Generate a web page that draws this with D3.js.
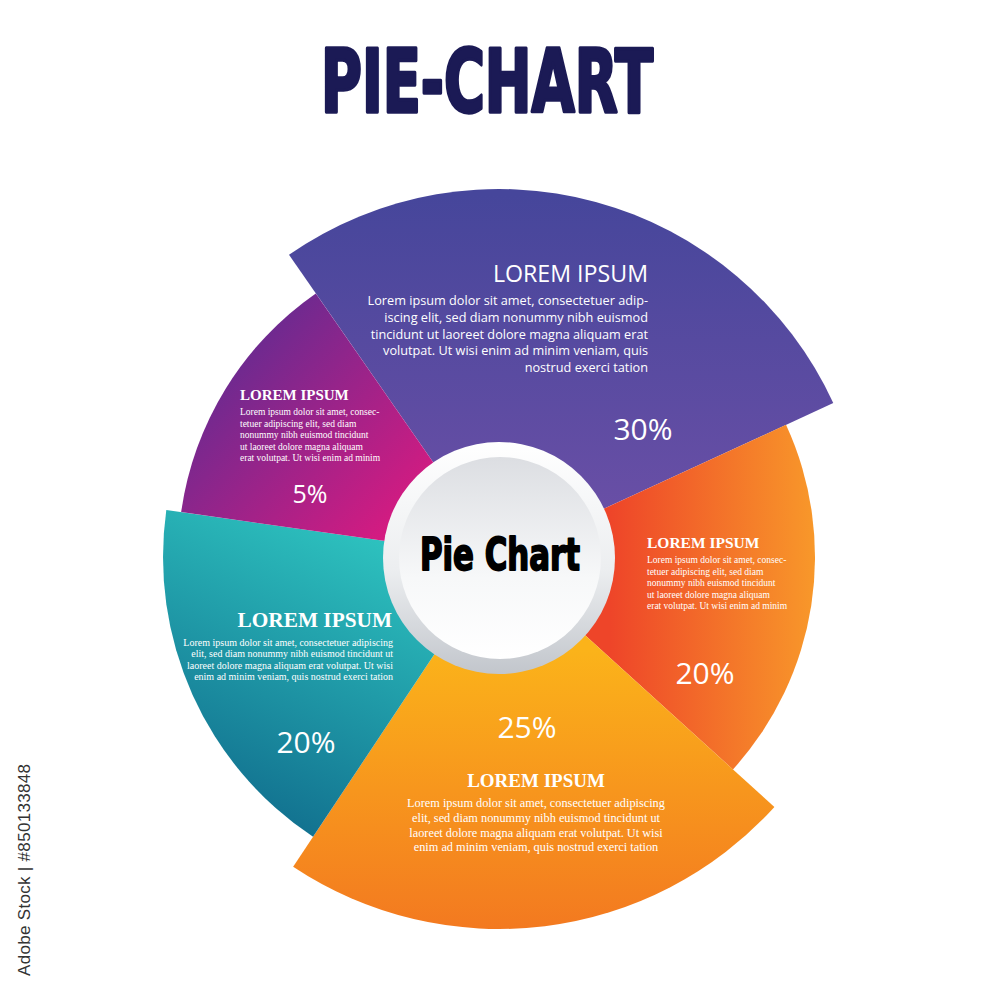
<!DOCTYPE html>
<html>
<head>
<meta charset="utf-8">
<script src="https://cdn.jsdelivr.net/npm/d3@7"></script>
<style>
  body { margin: 0; background: #fff; }
  svg { display: block; }
</style>
</head>
<body>
<div id="content"></div>
<script>
// values shown on the slices, clockwise from the big purple one
var percents = [30, 20, 25, 20, 5];
// share of the circle each wedge really takes in the picture (it is not proportional)
var arcShare = [27.8, 18.6, 22.6, 17.9, 13.1];
// how far each wedge reaches out
var sliceReach = [368, 316, 372, 336, 321];
var headings = ["LOREM IPSUM", "LOREM IPSUM", "LOREM IPSUM", "LOREM IPSUM", "LOREM IPSUM"];

var longText = ["Lorem ipsum dolor sit amet, consectetuer adipiscing",
                "elit, sed diam nonummy nibh euismod tincidunt ut",
                "laoreet dolore magna aliquam erat volutpat. Ut wisi",
                "enim ad minim veniam, quis nostrud exerci tation"];
var shortText = ["Lorem ipsum dolor sit amet, consec-",
                 "tetuer adipiscing elit, sed diam",
                 "nonummy nibh euismod tincidunt",
                 "ut laoreet dolore magna aliquam",
                 "erat volutpat. Ut wisi enim ad minim"];
var purpleText = ["Lorem ipsum dolor sit amet, consectetuer adip-",
                  "iscing elit, sed diam nonummy nibh euismod",
                  "tincidunt ut laoreet dolore magna aliquam erat",
                  "volutpat. Ut wisi enim ad minim veniam, quis",
                  "nostrud exerci tation"];
var bodies = [purpleText, shortText, longText, longText, shortText];

var cx = 499, cy = 557;
var startDeg = -34.8;

var sans = "'Open Sans', 'Noto Sans', sans-serif";
var serif = "'Liberation Serif', 'DejaVu Serif', serif";
var heavy = "'Liberation Sans Narrow', 'DejaVu Sans Condensed', 'Liberation Sans', sans-serif";

// gradient + text layout per slice
var looks = [
  {grad: [[499, 195, "#46469b"], [499, 520, "#6a4fa6"]],
   head: {x: 648, y: 282, anchor: "end", font: sans, size: 23.2, weight: 400},
   body: {x: 648, y: 305, step: 16.8, size: 12.7, font: sans, anchor: "end"},
   pct: {x: 643, y: 440, size: 30}},
  {grad: [[610, 560, "#ee4529"], [815, 560, "#f8982a"]],
   head: {x: 647, y: 548, anchor: "start", font: serif, size: 15.5, weight: 700},
   body: {x: 647, y: 563, step: 11.6, size: 9.5, font: serif, anchor: "start"},
   pct: {x: 705, y: 684, size: 30}},
  {grad: [[530, 650, "#fbb31a"], [530, 930, "#f37920"]],
   head: {x: 536, y: 787, anchor: "middle", font: serif, size: 19, weight: 700},
   body: {x: 536, y: 807, step: 14.8, size: 12.3, font: serif, anchor: "middle"},
   pct: {x: 527, y: 738, size: 30}},
  {grad: [[360, 520, "#2ec4c0"], [230, 800, "#127290"]],
   head: {x: 392, y: 627, anchor: "end", font: serif, size: 21.3, weight: 700},
   body: {x: 393, y: 646, step: 11.3, size: 10, font: serif, anchor: "end"},
   pct: {x: 306, y: 753, size: 30}},
  {grad: [[250, 340, "#6b2a90"], [440, 520, "#e2197f"]],
   head: {x: 240, y: 400, anchor: "start", font: serif, size: 15, weight: 700},
   body: {x: 240, y: 415, step: 11.6, size: 9.5, font: serif, anchor: "start"},
   pct: {x: 310, y: 503, size: 25}}
];

var svg = d3.select("#content").append("svg")
    .attr("width", 1000)
    .attr("height", 1000);

var defs = svg.append("defs");

looks.forEach(function(l, i) {
    var g = defs.append("linearGradient")
        .attr("id", "sg" + i)
        .attr("gradientUnits", "userSpaceOnUse")
        .attr("gradientTransform", "translate(" + (-cx) + "," + (-cy) + ")")
        .attr("x1", l.grad[0][0]).attr("y1", l.grad[0][1])
        .attr("x2", l.grad[1][0]).attr("y2", l.grad[1][1]);
    g.append("stop").attr("offset", "0%").attr("stop-color", l.grad[0][2]);
    g.append("stop").attr("offset", "100%").attr("stop-color", l.grad[1][2]);
});

var ringGrad = defs.append("linearGradient").attr("id", "ring")
    .attr("x1", 0).attr("y1", 0).attr("x2", 0).attr("y2", 1);
ringGrad.append("stop").attr("offset", "0%").attr("stop-color", "#ffffff");
ringGrad.append("stop").attr("offset", "55%").attr("stop-color", "#eceef0");
ringGrad.append("stop").attr("offset", "100%").attr("stop-color", "#c2c6cc");

var discGrad = defs.append("linearGradient").attr("id", "disc")
    .attr("x1", 0).attr("y1", 0).attr("x2", 0).attr("y2", 1);
discGrad.append("stop").attr("offset", "0%").attr("stop-color", "#dcdee2");
discGrad.append("stop").attr("offset", "60%").attr("stop-color", "#f7f8f9");
discGrad.append("stop").attr("offset", "100%").attr("stop-color", "#ffffff");

// title
svg.append("text")
    .attr("x", 487).attr("y", 112)
    .attr("text-anchor", "middle")
    .attr("textLength", 332)
    .attr("lengthAdjust", "spacingAndGlyphs")
    .style("font-family", heavy)
    .style("font-weight", 700)
    .style("font-size", "87px")
    .style("fill", "#1b1a55")
    .style("stroke", "#1b1a55")
    .style("stroke-width", 3.5)
    .style("stroke-linejoin", "round")
    .text("PIE-CHART");

// slices
var slices = percents.map(function(p, i) {
    return {pct: p, share: arcShare[i], reach: sliceReach[i], i: i};
});

var pie = d3.pie()
    .sort(null)
    .value(function(d) { return d.share; })
    .startAngle(startDeg * Math.PI / 180)
    .endAngle(startDeg * Math.PI / 180 + 2 * Math.PI);

var arc = d3.arc()
    .innerRadius(0)
    .outerRadius(function(d) { return d.data.reach; });

var pieG = svg.append("g").attr("transform", "translate(" + cx + "," + cy + ")");

pieG.selectAll("path.slice")
    .data(pie(slices))
    .enter()
    .append("path")
        .attr("class", "slice")
        .attr("d", arc)
        .style("fill", function(d) { return "url(#sg" + d.data.i + ")"; });

// texts
slices.forEach(function(s, i) {
    var l = looks[i];
    svg.append("text")
        .attr("x", l.head.x).attr("y", l.head.y)
        .attr("text-anchor", l.head.anchor)
        .style("font-family", l.head.font)
        .style("font-weight", l.head.weight)
        .style("font-size", l.head.size + "px")
        .style("fill", "#ffffff")
        .text(headings[i]);

    svg.selectAll("text.body" + i)
        .data(bodies[i])
        .enter()
        .append("text")
            .attr("class", "body" + i)
            .attr("x", l.body.x)
            .attr("y", function(d, j) { return l.body.y + j * l.body.step; })
            .attr("text-anchor", l.body.anchor)
            .style("font-family", l.body.font)
            .style("font-size", l.body.size + "px")
            .style("fill", "#ffffff")
            .text(function(d) { return d; });

    svg.append("text")
        .attr("x", l.pct.x).attr("y", l.pct.y)
        .attr("text-anchor", "middle")
        .style("font-family", sans)
        .style("font-size", l.pct.size + "px")
        .style("fill", "#ffffff")
        .text(s.pct + "%");
});

// center button
svg.append("circle")
    .attr("cx", cx).attr("cy", cy + 1)
    .attr("r", 116)
    .style("fill", "url(#ring)");
svg.append("circle")
    .attr("cx", cx + 1).attr("cy", cy + 1)
    .attr("r", 101)
    .style("fill", "url(#disc)");

svg.append("text")
    .attr("x", 500).attr("y", 570)
    .attr("text-anchor", "middle")
    .attr("textLength", 160)
    .attr("lengthAdjust", "spacingAndGlyphs")
    .style("font-family", heavy)
    .style("font-weight", 700)
    .style("font-size", "44px")
    .style("fill", "#000000")
    .style("stroke", "#000000")
    .style("stroke-width", 1.8)
    .style("stroke-linejoin", "round")
    .text("Pie Chart");

// stock id on the left edge
svg.append("text")
    .attr("transform", "translate(30,976) rotate(-90)")
    .attr("textLength", 212)
    .style("font-family", "'Liberation Sans', sans-serif")
    .style("font-size", "17px")
    .style("fill", "#333333")
    .text("Adobe Stock | #850133848");
</script>
</body>
</html>
